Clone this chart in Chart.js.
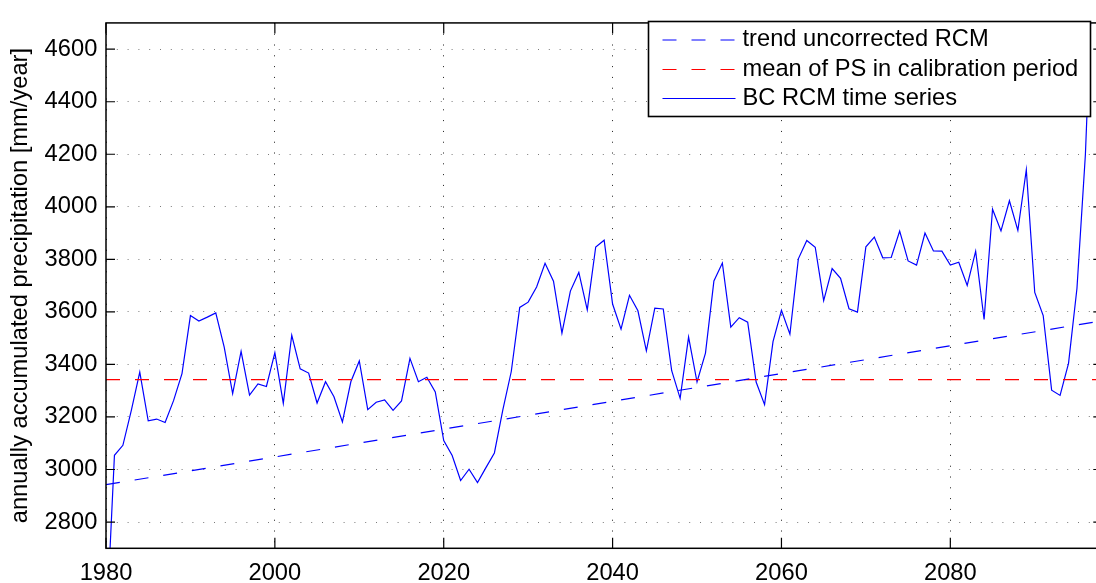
<!DOCTYPE html>
<html>
<head>
<meta charset="utf-8">
<script src="https://cdn.jsdelivr.net/npm/chart.js@4/dist/chart.umd.min.js"></script>
<style>
  html, body { margin: 0; padding: 0; background: #fff; overflow: hidden; width: 1096px; height: 583px; }
  canvas { display: block; }
</style>
</head>
<body>
<canvas id="chart" width="1110" height="583"></canvas>
<script>
// Bias-corrected RCM annual precipitation, one value per year from firstYear on [mm/year]
const firstYear = 1980;
const bcSeries = [
  2370, 3054, 3092, 3225, 3371, 3185, 3192, 3179, 3262, 3365,   // 1980-1989
  3586, 3565, 3580, 3596, 3466, 3289, 3450, 3283, 3326, 3316,   // 1990-1999
  3445, 3252, 3511, 3383, 3367, 3253, 3334, 3277, 3181, 3334,   // 2000-2009
  3413, 3228, 3256, 3265, 3225, 3261, 3423, 3334, 3351, 3295,   // 2010-2019
  3110, 3053, 2958, 3001, 2950, 3007, 3063, 3227, 3373, 3617,   // 2020-2029
  3637, 3695, 3785, 3717, 3519, 3679, 3750, 3608, 3847, 3873,   // 2030-2039
  3630, 3534, 3663, 3604, 3452, 3614, 3611, 3376, 3271, 3504,   // 2040-2049
  3333, 3443, 3718, 3786, 3542, 3578, 3561, 3333, 3247, 3487,   // 2050-2059
  3606, 3515, 3802, 3872, 3846, 3643, 3765, 3728, 3612, 3599,   // 2060-2069
  3848, 3885, 3806, 3807, 3908, 3794, 3778, 3900, 3832, 3831,   // 2070-2079
  3778, 3789, 3701, 3831, 3571, 3991, 3908, 4023, 3910, 4141,   // 2080-2089
  3674, 3586, 3302, 3282, 3404, 3690, 4200, 5020                // 2090-2097
];
const years = bcSeries.map((_, i) => firstYear + i);

// Linear trend of the uncorrected RCM (end points)
const trendYears = [1980, 2097];
const trendValues = [2942, 3561];

// Mean of the PS data over the calibration period
const meanYears = [1980, 2098];
const meanValues = [3342, 3342];

const xTicks = [1980, 2000, 2020, 2040, 2060, 2080];
const yTicks = [2800, 3000, 3200, 3400, 3600, 3800, 4000, 4200, 4400, 4600];
const xRange = [1980, 2098];
const yRange = [2700, 4700];

const seriesLabels = ['trend uncorrected RCM', 'mean of PS in calibration period', 'BC RCM time series'];
const yTitle = 'annually accumulated precipitation [mm/year]';

const FONT = '"Liberation Sans", Arial, Helvetica, sans-serif';
const FONT_SIZE = 23.7;
Chart.defaults.font.family = FONT;
Chart.defaults.font.size = FONT_SIZE;
Chart.defaults.color = '#000';

const pairs = (xs, ys) => xs.map((x, i) => ({ x, y: ys[i] }));

// Axes box with inward tick marks, plus the boxed legend inside the plot
const framePlugin = {
  id: 'frame',
  afterDraw(chart) {
    const { ctx, chartArea: a, scales: { x, y } } = chart;
    ctx.save();
    ctx.strokeStyle = '#000';
    ctx.lineWidth = 1.5;
    ctx.strokeRect(a.left, a.top, a.right - a.left, a.bottom - a.top);
    ctx.lineWidth = 1.2;
    ctx.beginPath();
    xTicks.forEach(t => {
      const px = x.getPixelForValue(t);
      ctx.moveTo(px, a.bottom); ctx.lineTo(px, a.bottom - 10.5);
      ctx.moveTo(px, a.top); ctx.lineTo(px, a.top + 10.5);
    });
    yTicks.forEach(t => {
      const py = y.getPixelForValue(t);
      ctx.moveTo(a.left, py); ctx.lineTo(a.left + 9, py);
      ctx.moveTo(a.right, py); ctx.lineTo(a.right - 9, py);
    });
    ctx.stroke();

    // legend
    const box = { left: 648.5, top: 21.5, right: 1090.5, bottom: 116.5 };
    ctx.fillStyle = '#fff';
    ctx.fillRect(box.left, box.top, box.right - box.left, box.bottom - box.top);
    ctx.lineWidth = 1.6;
    ctx.strokeStyle = '#000';
    ctx.strokeRect(box.left, box.top, box.right - box.left, box.bottom - box.top);
    const rows = [40, 69.5, 98.5];
    chart.data.datasets.forEach((ds, i) => {
      const ry = rows[i];
      ctx.beginPath();
      ctx.strokeStyle = ds.borderColor;
      ctx.lineWidth = ds.borderWidth;
      ctx.setLineDash(ds.borderDash || []);
      ctx.moveTo(662.5, ry); ctx.lineTo(735.5, ry);
      ctx.stroke();
      ctx.setLineDash([]);
      ctx.fillStyle = '#000';
      ctx.font = FONT_SIZE + 'px ' + FONT;
      ctx.textBaseline = 'middle';
      ctx.textAlign = 'left';
      ctx.fillText(ds.label, 742.5, ry - 0.5);
    });
    ctx.restore();
  }
};

new Chart(document.getElementById('chart'), {
  type: 'line',
  data: {
    datasets: [
      {
        label: seriesLabels[0],
        data: pairs(trendYears, trendValues),
        borderColor: '#0000ff', borderWidth: 1.2, borderDash: [14, 15],
        pointRadius: 0, tension: 0
      },
      {
        label: seriesLabels[1],
        data: pairs(meanYears, meanValues),
        borderColor: '#ff0000', borderWidth: 1.2, borderDash: [14, 15],
        pointRadius: 0, tension: 0
      },
      {
        label: seriesLabels[2],
        data: pairs(years, bcSeries),
        borderColor: '#0000ff', borderWidth: 1.2,
        pointRadius: 0, tension: 0
      }
    ]
  },
  options: {
    responsive: false,
    animation: false,
    devicePixelRatio: 1,
    layout: { padding: { left: 0, top: 9.3, right: 7.7, bottom: 0 } },
    plugins: { legend: { display: false }, tooltip: { enabled: false } },
    scales: {
      x: {
        type: 'linear',
        min: xRange[0], max: xRange[1],
        afterBuildTicks: s => { s.ticks = xTicks.map(v => ({ value: v })); },
        afterFit: s => { s.height = 34.7; },
        ticks: { callback: v => String(v), padding: 10.5, maxRotation: 0, autoSkip: false, color: '#000' },
        grid: { color: '#1a1a1a', lineWidth: 1, drawTicks: false },
        border: { display: false, dash: [1, 9.8] }
      },
      y: {
        type: 'linear',
        min: yRange[0], max: yRange[1],
        afterBuildTicks: s => { s.ticks = yTicks.map(v => ({ value: v })); },
        afterFit: s => { s.width = 106; },
        ticks: { callback: v => String(v), padding: 8.7, autoSkip: false, color: '#000' },
        grid: { color: '#7a7a7a', lineWidth: 1, drawTicks: false },
        border: { display: false, dash: [1, 9.8] },
        title: { display: true, text: yTitle, color: '#000', padding: { top: 6, bottom: 0 } }
      }
    }
  },
  plugins: [framePlugin]
});
</script>
</body>
</html>
